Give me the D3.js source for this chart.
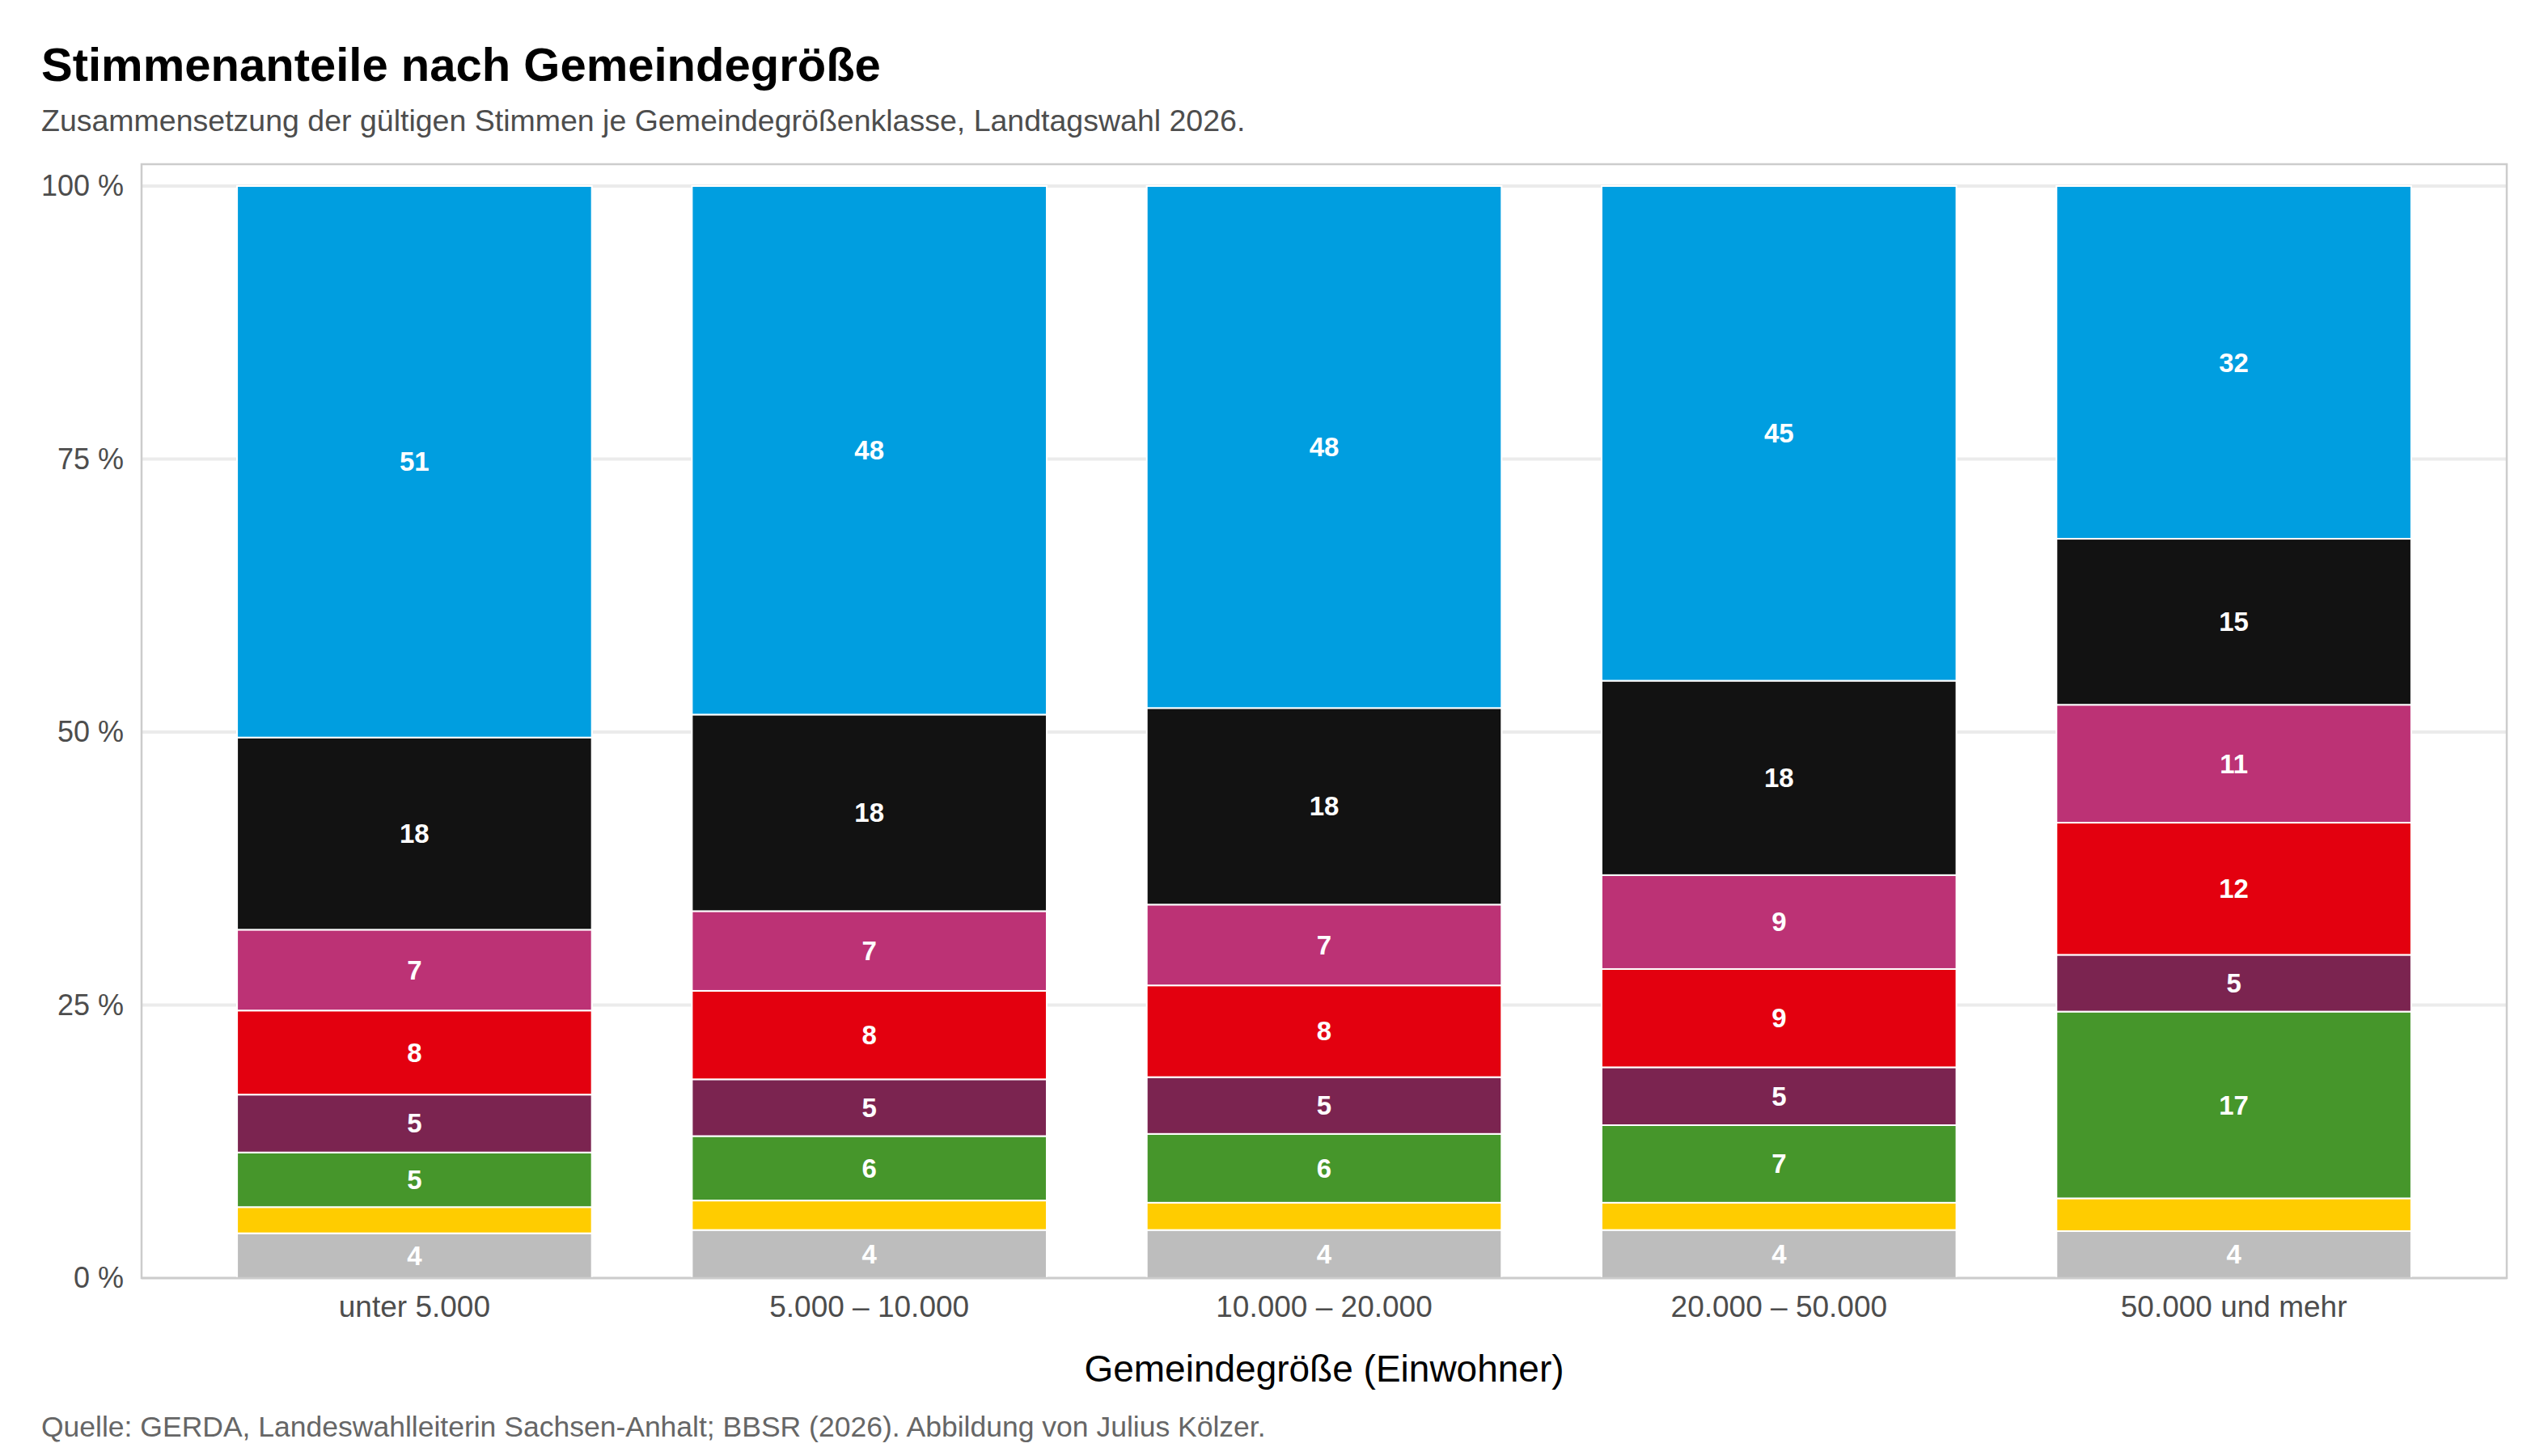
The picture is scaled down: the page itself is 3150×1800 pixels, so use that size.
<!DOCTYPE html>
<html lang="de">
<head>
<meta charset="utf-8">
<title>Stimmenanteile nach Gemeindegröße</title>
<script src="https://cdn.jsdelivr.net/npm/d3@7"></script>
<style>
  html, body { margin: 0; padding: 0; background: #fff; }
  svg { display: block; font-family: "Liberation Sans", Arial, Helvetica, sans-serif; }
</style>
</head>
<body>
<div id="chart"></div>
<script>
// Gemeindegrößenklassen (x-Achse)
var categories = ["unter 5.000", "5.000 – 10.000", "10.000 – 20.000", "20.000 – 50.000", "50.000 und mehr"];

// Parteien, von unten nach oben gestapelt
var parties = ["Sonstige", "FDP", "Grüne", "Linke", "SPD", "BSW", "CDU", "AfD"];
var partyColors = ["#bdbdbd", "#ffcc00", "#46962b", "#7b2450", "#e3000f", "#bc3275", "#121212", "#009ee0"];

// Stimmenanteile in %, je Gemeindegrößenklasse
var sonstige = [4.1, 4.4, 4.4, 4.4, 4.3];
var fdp      = [2.4, 2.7, 2.5, 2.5, 3.0];
var gruene   = [5.0, 5.9, 6.3, 7.1, 17.1];
var linke    = [5.3, 5.2, 5.2, 5.3, 5.2];
var spd      = [7.7, 8.1, 8.4, 9.0, 12.1];
var bsw      = [7.4, 7.3, 7.4, 8.6, 10.8];
var cdu      = [17.6, 18.0, 18.0, 17.8, 15.2];
var afd      = [50.5, 48.4, 47.8, 45.3, 32.3];

var yTicks = [0, 25, 50, 75, 100];

(function() {
    "use strict";

    var seriesValues = [sonstige, fdp, gruene, linke, spd, bsw, cdu, afd];
    var rows = categories.map(function(c, i) {
        var row = { category: c };
        parties.forEach(function(p, j) { row[p] = seriesValues[j][i]; });
        return row;
    });

    var width = 3150, height = 1800;
    var margin = { top: 203, right: 51, bottom: 220, left: 175 };
    var plotBottom = height - margin.bottom;

    var svg = d3.select("#chart").append("svg")
        .attr("width", width)
        .attr("height", height)
        .attr("viewBox", [0, 0, width, height]);

    svg.append("rect").attr("width", width).attr("height", height).attr("fill", "#fff");

    var x = d3.scaleBand()
        .domain(categories)
        .range([margin.left, width - margin.right])
        .paddingInner(0.22)
        .paddingOuter(0.21);

    // 2 % Luft oben wie im Original
    var y = d3.scaleLinear()
        .domain([0, 102])
        .range([plotBottom, margin.top]);

    var color = d3.scaleOrdinal().domain(parties).range(partyColors);

    // Gitterlinien
    svg.append("g")
        .attr("class", "grid")
        .selectAll("line")
        .data(yTicks)
        .join("line")
        .attr("x1", margin.left)
        .attr("x2", width - margin.right)
        .attr("y1", function(d) { return y(d); })
        .attr("y2", function(d) { return y(d); })
        .attr("stroke", "#ebebeb")
        .attr("stroke-width", 4);

    var stacked = d3.stack().keys(parties)(rows);

    var layer = svg.append("g")
        .attr("class", "bars")
        .selectAll("g")
        .data(stacked)
        .join("g")
        .attr("fill", function(d) { return color(d.key); });

    layer.selectAll("rect")
        .data(function(d) { return d; })
        .join("rect")
        .attr("x", function(d) { return x(d.data.category); })
        .attr("width", x.bandwidth())
        .attr("y", function(d) { return y(d[1]); })
        .attr("height", function(d) { return y(d[0]) - y(d[1]); })
        .attr("stroke", "#ffffff")
        .attr("stroke-width", 2);

    // Werte-Beschriftung in den Segmenten (kleine Anteile ohne Zahl)
    layer.selectAll("text")
        .data(function(d) { return d.filter(function(s) { return s[1] - s[0] >= 3.5; }); })
        .join("text")
        .attr("x", function(d) { return x(d.data.category) + x.bandwidth() / 2; })
        .attr("y", function(d) { return y((d[0] + d[1]) / 2); })
        .attr("text-anchor", "middle")
        .attr("dominant-baseline", "central")
        .attr("fill", "#ffffff")
        .style("font-size", "33px")
        .style("font-weight", "bold")
        .text(function(d) { return Math.round(d[1] - d[0]); });

    // Panel-Rahmen
    svg.append("rect")
        .attr("x", margin.left)
        .attr("y", margin.top)
        .attr("width", width - margin.right - margin.left)
        .attr("height", plotBottom - margin.top)
        .attr("fill", "none")
        .attr("stroke", "#cccccc")
        .attr("stroke-width", 2.5);

    // Achsen
    var yAxis = svg.append("g")
        .attr("transform", "translate(" + margin.left + ",0)")
        .call(d3.axisLeft(y).tickValues(yTicks).tickSize(0).tickPadding(22)
            .tickFormat(function(d) { return d + " %"; }));
    yAxis.select(".domain").remove();
    yAxis.selectAll("text")
        .attr("fill", "#4d4d4d")
        .style("font-size", "36px")
        .style("font-family", "'Liberation Sans', Arial, sans-serif");

    var xAxis = svg.append("g")
        .attr("transform", "translate(0," + plotBottom + ")")
        .call(d3.axisBottom(x).tickSize(0).tickPadding(22));
    xAxis.select(".domain").remove();
    xAxis.selectAll("text")
        .attr("fill", "#4d4d4d")
        .style("font-size", "37px")
        .style("font-family", "'Liberation Sans', Arial, sans-serif");

    // Texte
    svg.append("text")
        .attr("x", (margin.left + width - margin.right) / 2)
        .attr("y", 1708)
        .attr("text-anchor", "middle")
        .attr("fill", "#000")
        .style("font-size", "46px")
        .text("Gemeindegröße (Einwohner)");

    svg.append("text")
        .attr("x", 51)
        .attr("y", 100)
        .attr("fill", "#000")
        .style("font-size", "58px")
        .style("font-weight", "bold")
        .text("Stimmenanteile nach Gemeindegröße");

    svg.append("text")
        .attr("x", 51)
        .attr("y", 162)
        .attr("fill", "#4d4d4d")
        .style("font-size", "37.5px")
        .text("Zusammensetzung der gültigen Stimmen je Gemeindegrößenklasse, Landtagswahl 2026.");

    svg.append("text")
        .attr("x", 51)
        .attr("y", 1776)
        .attr("fill", "#666666")
        .style("font-size", "35.5px")
        .text("Quelle: GERDA, Landeswahlleiterin Sachsen-Anhalt; BBSR (2026). Abbildung von Julius Kölzer.");
})();
</script>
</body>
</html>
